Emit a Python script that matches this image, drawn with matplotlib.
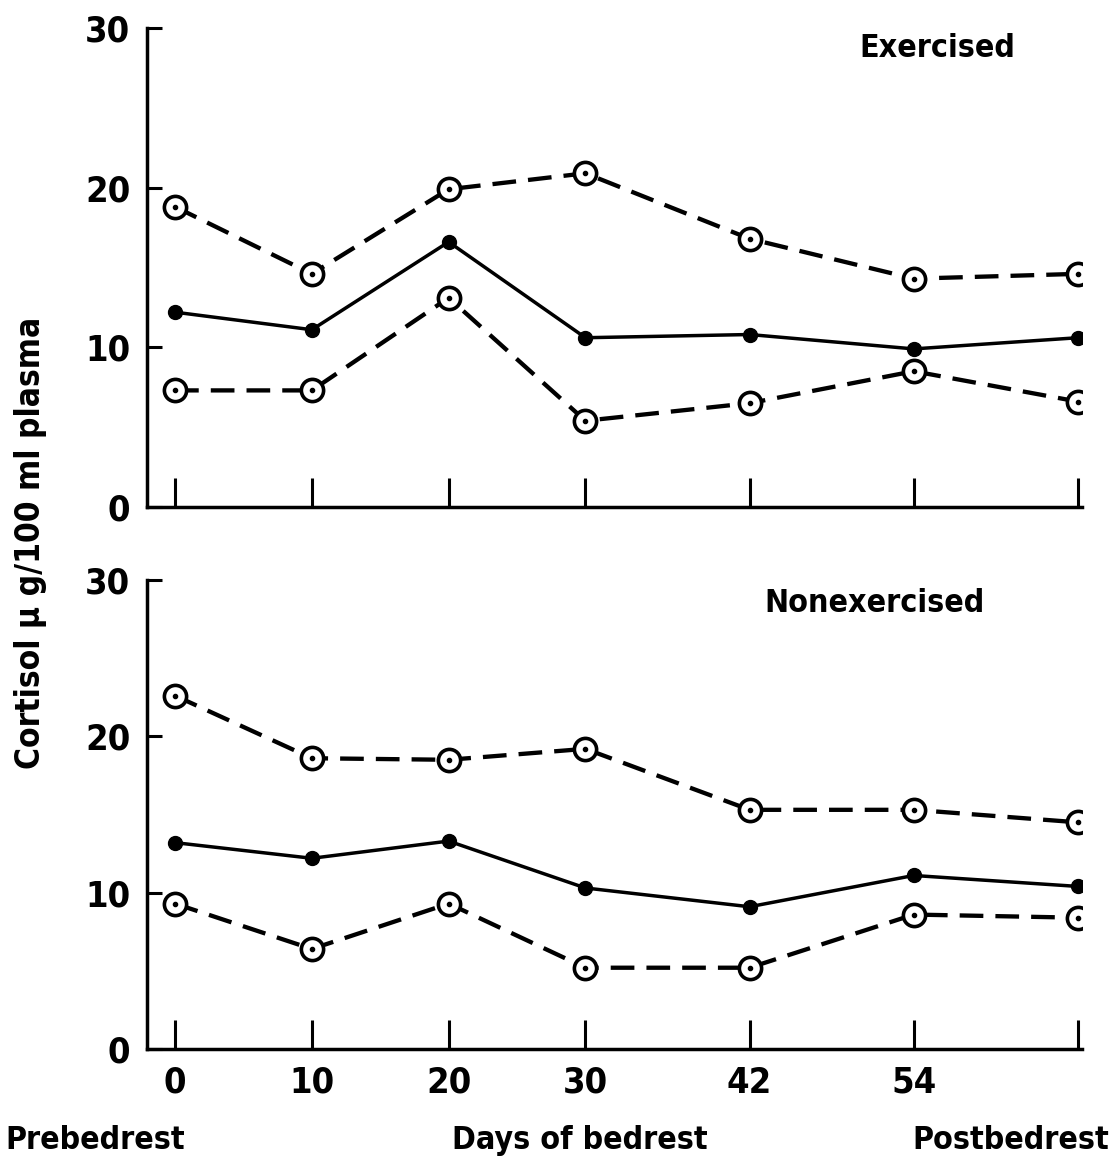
import numpy as np
import matplotlib
matplotlib.use("Agg")
import matplotlib.pyplot as plt

# days of bedrest (last point = postbedrest)
days = [0, 10, 20, 30, 42, 54, 66]
tick_labels = ["0", "10", "20", "30", "42", "54", ""]

# exercised group
ex_upper = [18.8, 14.6, 19.9, 20.9, 16.8, 14.3, 14.6]
ex_mean = [12.2, 11.1, 16.6, 10.6, 10.8, 9.9, 10.6]
ex_lower = [7.3, 7.3, 13.1, 5.4, 6.5, 8.5, 6.6]

# nonexercised group
nx_upper = [22.6, 18.6, 18.5, 19.2, 15.3, 15.3, 14.5]
nx_mean = [13.2, 12.2, 13.3, 10.3, 9.1, 11.1, 10.4]
nx_lower = [9.3, 6.4, 9.3, 5.2, 5.2, 8.6, 8.4]

FONT = dict(family="DejaVu Sans", stretch="condensed", weight="bold")


def draw_panel(ax, upper, mean, lower, title, title_x, title_y, show_xlabels):
    dash = (0, (5.5, 2.8))
    for series in (upper, lower):
        ax.plot(days, series, color="black", lw=3.1, ls=dash, zorder=2)
        ax.plot(days, series, ls="none", marker="o", ms=16, mfc="white",
                mec="black", mew=2.6, zorder=3)
        ax.plot(days, series, ls="none", marker="o", ms=3, color="black", zorder=4)
    ax.plot(days, mean, color="black", lw=2.5, marker="o", ms=10, zorder=3)

    ax.set_xlim(-2.05, 66.3)
    ax.set_ylim(0, 30)
    ax.spines["top"].set_visible(False)
    ax.spines["right"].set_visible(False)
    ax.spines["left"].set_linewidth(2.5)
    ax.spines["bottom"].set_linewidth(2.5)
    ax.set_yticks([0, 10, 20, 30])
    ax.set_xticks(days)
    ax.tick_params(axis="y", direction="in", length=11, width=2.2, pad=12)
    ax.tick_params(axis="x", direction="in", length=21, width=2.2, pad=12)
    if show_xlabels:
        ax.set_xticklabels(tick_labels)
    else:
        ax.set_xticklabels([])
    for lab in ax.get_yticklabels() + ax.get_xticklabels():
        lab.set_fontsize(26)
        lab.set_fontfamily(FONT["family"])
        lab.set_fontstretch(FONT["stretch"])
        lab.set_fontweight(FONT["weight"])
    ax.text(title_x, title_y, title, ha="center", va="center", fontsize=23, **FONT)


fig = plt.figure(figsize=(11.12, 11.67), dpi=100)
ax1 = fig.add_axes([0.1322, 0.5656, 0.8408, 0.4104])
ax2 = fig.add_axes([0.1322, 0.1011, 0.8408, 0.4019])

draw_panel(ax1, ex_upper, ex_mean, ex_lower, "Exercised", 55.7, 28.7, False)
draw_panel(ax2, nx_upper, nx_mean, nx_lower, "Nonexercised", 51.1, 28.5, True)

fig.text(0.027, 0.535, "Cortisol \u03bc g/100 ml plasma", rotation=90,
         ha="center", va="center", fontsize=24, **FONT)
fig.text(0.005, 0.023, "Prebedrest", ha="left", va="center", fontsize=23, **FONT)
fig.text(0.521, 0.023, "Days of bedrest", ha="center", va="center", fontsize=23, **FONT)
fig.text(0.997, 0.023, "Postbedrest", ha="right", va="center", fontsize=23, **FONT)

fig.savefig("out.png", dpi=100)
